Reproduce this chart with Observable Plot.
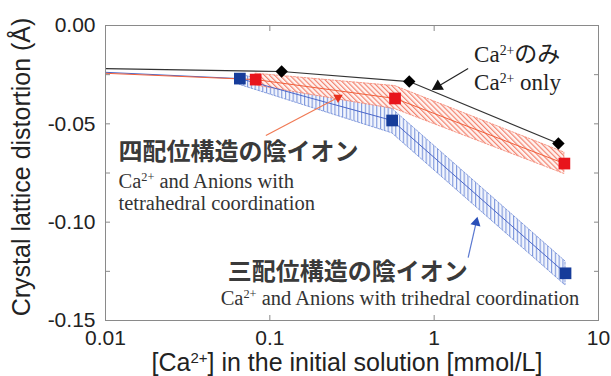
<!DOCTYPE html>
<html><head><meta charset="utf-8">
<script src="https://cdn.jsdelivr.net/npm/d3@7"></script>
<script src="https://cdn.jsdelivr.net/npm/@observablehq/plot@0.6"></script>
<style>body{margin:0;background:#fff}</style>
</head><body><div id="chart"></div>
<script>
// ---- axes ----
const xTicks = [0.01, 0.1, 1, 10];
const xTickLabels = ["0.01", "0.1", "1", "10"];
const yTicksAll = [0, -0.025, -0.05, -0.075, -0.1, -0.125, -0.15];
const yTicksLabelled = [0, -0.05, -0.1, -0.15];
const xTitle = "[Ca²⁺] in the initial solution [mmol/L]";
const yTitle = "Crystal lattice distortion (Å)";

// ---- series ----
const startConc = 0.01;
const caOnlyStart = -0.0219;
const caOnlyConc = [0.118, 0.705, 5.7];
const caOnlyDist = [-0.0234, -0.0285, -0.0600];

const tetraStart = -0.0243;
const tetraConc = [0.082, 0.578, 6.2];
const tetraDist = [-0.0275, -0.0371, -0.0702];
const tetraHigh = [-0.0245, -0.0308, -0.0646];
const tetraLow = [-0.0305, -0.0425, -0.0755];

const triStart = -0.0238;
const triConc = [0.0657, 0.555, 6.3];
const triDist = [-0.0270, -0.0483, -0.1260];
const triHigh = [-0.0250, -0.0423, -0.1200];
const triLow = [-0.0302, -0.0548, -0.1322];

// ---- annotations (data coordinates) ----
const noteText = [
  "Ca²⁺のみ", "Ca²⁺ only",
  "四配位構造の陰イオン", "Ca²⁺ and Anions with", "tetrahedral coordination",
  "三配位構造の陰イオン", "Ca²⁺ and Anions with trihedral coordination"
];
const noteConc = [1.75, 1.75, 0.0120, 0.0120, 0.0120, 0.0555, 0.0502];
const noteDist = [-0.0150, -0.0288, -0.0647, -0.0795, -0.0907, -0.1257, -0.1388];

const pointerFromConc = [1.61, 0.0946, 1.61];
const pointerFromDist = [-0.0219, -0.0559, -0.118];
const pointerToConc = [1.053, 0.26, 1.80];
const pointerToDist = [-0.031, -0.0366, -0.1002];

// ---- build rows ----
const caOnlyRows = caOnlyConc.map((x, i) => ({x, y: caOnlyDist[i]}));
const caOnlyLine = [{x: startConc, y: caOnlyStart}, ...caOnlyRows];
const tetraRows = tetraConc.map((x, i) => ({x, y: tetraDist[i], lo: tetraLow[i], hi: tetraHigh[i]}));
const tetraLine = [{x: startConc, y: tetraStart}, ...tetraRows];
const triRows = triConc.map((x, i) => ({x, y: triDist[i], lo: triLow[i], hi: triHigh[i]}));
const triLine = [{x: startConc, y: triStart}, ...triRows];
const notes = noteText.map((t, i) => ({t, x: noteConc[i], y: noteDist[i]}));
const pointers = pointerFromConc.map((x, i) => ({x1: x, y1: pointerFromDist[i], x2: pointerToConc[i], y2: pointerToDist[i]}));

const RED = "#e8141c", BLUE = "#163c9a";
const serif = "'Liberation Serif', 'Times New Roman', 'Noto Sans CJK JP', serif";
const cjk = "'Noto Sans CJK JP', sans-serif";
const noText = () => "";

const svg = Plot.plot({
  width: 611,
  height: 376,
  marginLeft: 105,
  marginRight: 13,
  marginTop: 25,
  marginBottom: 56,
  style: {fontFamily: "'Liberation Sans', Arial, sans-serif", background: "#fff", color: "#222"},
  x: {type: "log", domain: [0.01, 10], label: null},
  y: {domain: [-0.15, 0], label: null},
  marks: [
    // bands
    Plot.areaY(triRows, {x: "x", y1: "lo", y2: "hi", fill: "url(#hatchBlue)", stroke: "#6d89d6", strokeWidth: 0.8, strokeDasharray: "2,1.5"}),
    Plot.areaY(tetraRows, {x: "x", y1: "lo", y2: "hi", fill: "url(#hatchRed)", stroke: "#f2806c", strokeWidth: 0.8, strokeDasharray: "2,1.5"}),
    // lines
    Plot.line(caOnlyLine, {x: "x", y: "y", stroke: "#333", strokeWidth: 1.2}),
    Plot.line(triLine, {x: "x", y: "y", stroke: "#4a66c8", strokeWidth: 1}),
    Plot.line(tetraLine, {x: "x", y: "y", stroke: "#f0603c", strokeWidth: 1}),
    // markers
    Plot.dot(caOnlyRows, {x: "x", y: "y", symbol: "diamond2", r: 5.6, fill: "#000"}),
    Plot.dot(triRows, {x: "x", y: "y", symbol: "square", r: 6.6, fill: BLUE}),
    Plot.dot(tetraRows, {x: "x", y: "y", symbol: "square", r: 6.6, fill: RED}),
    // pointers
    Plot.link([pointers[0]], {x1: "x1", y1: "y1", x2: "x2", y2: "y2", stroke: "#222", strokeWidth: 1.2}),
    Plot.dot([pointers[0]], {x: "x2", y: "y2", symbol: "triangle", r: 4.5, fill: "#111", rotate: 239}),
    Plot.link([pointers[1]], {x1: "x1", y1: "y1", x2: "x2", y2: "y2", stroke: "#f07a55", strokeWidth: 1.2}),
    Plot.dot([pointers[1]], {x: "x2", y: "y2", symbol: "triangle", r: 3.5, fill: "#e8301c", rotate: 180}),
    Plot.link([pointers[2]], {x1: "x1", y1: "y1", x2: "x2", y2: "y2", stroke: "#5a78d0", strokeWidth: 1.2}),
    Plot.dot([pointers[2]], {x: "x2", y: "y2", symbol: "triangle", r: 3.8, fill: "#2a4fb8", rotate: 13}),
    // notes
    Plot.text(notes.slice(0, 2), {x: "x", y: "y", text: "t", textAnchor: "start", lineAnchor: "middle", fontSize: 23, fontFamily: serif, fill: "#222"}),
    Plot.text([notes[2], notes[5]], {x: "x", y: "y", text: "t", textAnchor: "start", lineAnchor: "middle", fontSize: 24, fontWeight: "bold", fontFamily: cjk, fill: "#3a3a3a"}),
    Plot.text([notes[3], notes[4], notes[6]], {x: "x", y: "y", text: "t", textAnchor: "start", lineAnchor: "middle", fontSize: 20.5, fontFamily: serif, fill: "#333"}),
    // frame & axes
    Plot.frame({stroke: "#8a8a8a"}),
    Plot.axisX(xTicks, {anchor: "bottom", tickSize: -5, tickFormat: noText, stroke: "#8a8a8a"}),
    Plot.axisX(xTicks, {anchor: "top", tickSize: -5, tickFormat: noText, stroke: "#8a8a8a"}),
    Plot.axisX(xTicks, {anchor: "bottom", tickSize: 0, tickPadding: 10, fontSize: 21, fill: "#222", tickFormat: d => xTickLabels[xTicks.indexOf(d)]}),
    Plot.axisY(yTicksAll, {anchor: "left", tickSize: -5, tickFormat: noText, stroke: "#8a8a8a"}),
    Plot.axisY(yTicksAll, {anchor: "right", tickSize: -5, tickFormat: noText, stroke: "#8a8a8a"}),
    Plot.axisY(yTicksLabelled, {anchor: "left", tickSize: 0, tickPadding: 10, fontSize: 21, fill: "#222", tickFormat: d => d.toFixed(2)}),
    // titles
    Plot.text([xTitle], {text: d => d, frameAnchor: "bottom", textAnchor: "middle", lineAnchor: "middle", dx: -5, dy: 42, fontSize: 25, fill: "#222"}),
    Plot.text([yTitle], {text: d => d, frameAnchor: "left", textAnchor: "middle", lineAnchor: "middle", dx: -84, dy: -6, rotate: -90, fontSize: 25, fill: "#222"})
  ]
});

const NS = "http://www.w3.org/2000/svg";
const defs = document.createElementNS(NS, "defs");
defs.innerHTML = `
<pattern id="hatchRed" patternUnits="userSpaceOnUse" width="3.6" height="3.6" patternTransform="rotate(-45)">
  <rect width="3.6" height="3.6" fill="#fff4f1"/>
  <line x1="0.6" y1="0" x2="0.6" y2="3.6" stroke="#f27a66" stroke-width="1.1"/>
</pattern>
<pattern id="hatchBlue" patternUnits="userSpaceOnUse" width="3.8" height="3.8">
  <rect width="3.8" height="3.8" fill="#f3f6fd"/>
  <line x1="0.6" y1="0" x2="0.6" y2="3.8" stroke="#7b95dc" stroke-width="1.1"/>
</pattern>`;
svg.insertBefore(defs, svg.firstChild);

// real superscripts for "2+"
svg.querySelectorAll("text").forEach(t => {
  if (t.children.length || !t.textContent.includes("²⁺")) return;
  const parts = t.textContent.split("²⁺");
  t.textContent = "";
  parts.forEach((p, i) => {
    if (i > 0) {
      const s = document.createElementNS(NS, "tspan");
      s.setAttribute("baseline-shift", "super");
      s.setAttribute("font-size", "0.6em");
      s.textContent = "2+";
      t.appendChild(s);
    }
    if (p) {
      const s = document.createElementNS(NS, "tspan");
      s.textContent = p;
      t.appendChild(s);
    }
  });
});

document.getElementById("chart").appendChild(svg);
</script>
</body></html>
